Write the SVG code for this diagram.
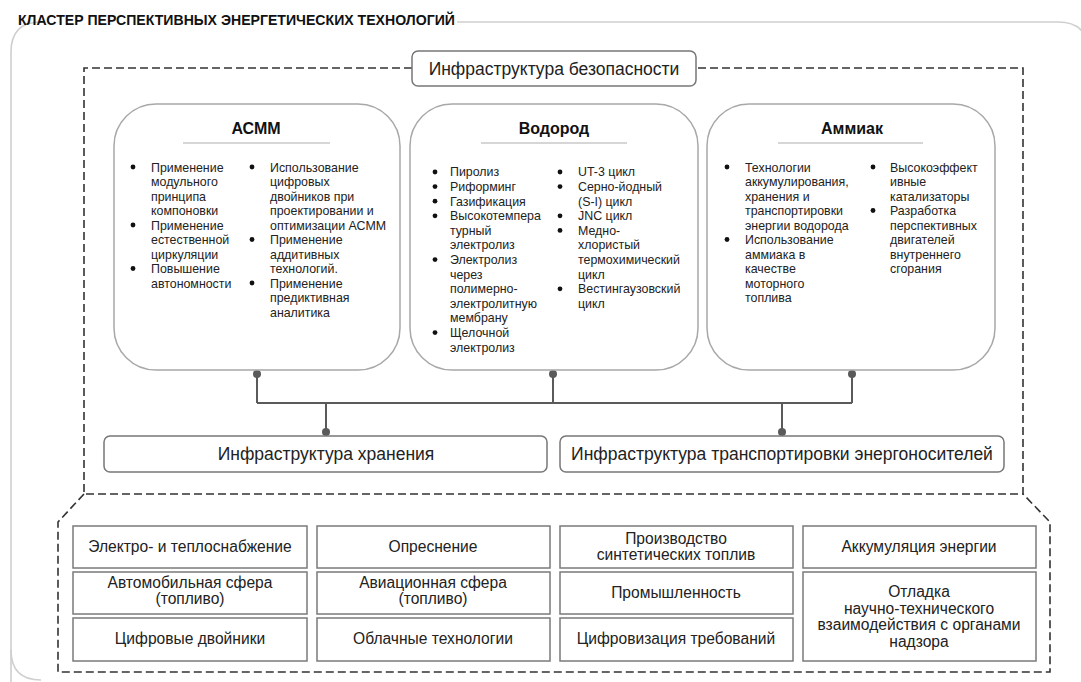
<svg xmlns="http://www.w3.org/2000/svg" width="1081" height="682" viewBox="0 0 1081 682">
<style>
text{font-family:"Liberation Sans",Arial,sans-serif;fill:#222}
.title{font-size:14.1px;font-weight:bold;fill:#111}
.bar{fill:#fff;stroke:#777;stroke-width:1.5}
.barT{font-size:17.5px;text-anchor:middle}
.cat{fill:#fff;stroke:#a8a8a8;stroke-width:1.5}
.catT{font-size:16px;font-weight:bold;text-anchor:middle;fill:#111}
.rule{stroke:#c8c8c8;stroke-width:1.5}
.li{font-size:12.4px}
.dot{fill:#111}
.cell{fill:#fff;stroke:#7a7a7a;stroke-width:1.5}
.cellT{font-size:15.6px;text-anchor:middle}
.dash{fill:none;stroke:#333;stroke-width:1.6;stroke-dasharray:8 4}
.conn{fill:none;stroke:#5a5a5a;stroke-width:2}
.cdot{fill:#5a5a5a}
</style>
<rect width="1081" height="682" fill="#fff"/>
<g id="cluster">
<path d="M457 22 H1058 Q1088 22 1088 52 V690 M11 690 V52 Q11 22 41 22" fill="none" stroke="#cfcfcf" stroke-width="1.6"/>
<path d="M11 650 Q11 680 41 680" fill="none" stroke="#cfcfcf" stroke-width="1.6"/>
<text class="title" x="18" y="25">КЛАСТЕР ПЕРСПЕКТИВНЫХ ЭНЕРГЕТИЧЕСКИХ ТЕХНОЛОГИЙ</text>
</g>
<g id="security-frame">
<path class="dash" d="M412 68 H84 V494 H1023 V68 H696"/>
</g>
<g id="applications-frame">
<path class="dash" d="M84 494 L58 522 V672 H1050 V522 L1023 494"/>
</g>
<g id="security">
<rect class="bar" x="412" y="51" width="284" height="35" rx="6"/>
<text class="barT" x="554" y="75">Инфраструктура безопасности</text>
</g>
<g id="connectors">
<path class="conn" d="M257 374 V403 M553 374 V403 M852 374 V403 M257 403 H852 M326 403 V432 M782 403 V432"/>
<circle class="cdot" cx="257" cy="374" r="4"/>
<circle class="cdot" cx="553" cy="374" r="4"/>
<circle class="cdot" cx="852" cy="374" r="4"/>
<circle class="cdot" cx="326" cy="432" r="4"/>
<circle class="cdot" cx="782" cy="432" r="4"/>
</g>
<g id="asmm">
<rect class="cat" x="114" y="104" width="286" height="266" rx="42"/>
<text class="catT" x="256" y="134">АСММ</text>
<line class="rule" x1="183" y1="143" x2="330" y2="143"/>
<circle class="dot" cx="133" cy="167" r="2.4"/>
<circle class="dot" cx="133" cy="225" r="2.4"/>
<circle class="dot" cx="133" cy="268.5" r="2.4"/>
<text class="li" x="151" y="171.5"><tspan x="151">Применение</tspan><tspan x="151" dy="14.5">модульного</tspan><tspan x="151" dy="14.5">принципа</tspan><tspan x="151" dy="14.5">компоновки</tspan><tspan x="151" dy="14.5">Применение</tspan><tspan x="151" dy="14.5">естественной</tspan><tspan x="151" dy="14.5">циркуляции</tspan><tspan x="151" dy="14.5">Повышение</tspan><tspan x="151" dy="14.5">автономности</tspan></text>
<circle class="dot" cx="252" cy="167" r="2.4"/>
<circle class="dot" cx="252" cy="239.5" r="2.4"/>
<circle class="dot" cx="252" cy="283" r="2.4"/>
<text class="li" x="270" y="171.5"><tspan x="270">Использование</tspan><tspan x="270" dy="14.5">цифровых</tspan><tspan x="270" dy="14.5">двойников при</tspan><tspan x="270" dy="14.5">проектировании и</tspan><tspan x="270" dy="14.5">оптимизации АСММ</tspan><tspan x="270" dy="14.5">Применение</tspan><tspan x="270" dy="14.5">аддитивных</tspan><tspan x="270" dy="14.5">технологий.</tspan><tspan x="270" dy="14.5">Применение</tspan><tspan x="270" dy="14.5">предиктивная</tspan><tspan x="270" dy="14.5">аналитика</tspan></text>
</g>
<g id="hydrogen">
<rect class="cat" x="410" y="104" width="288" height="266" rx="42"/>
<text class="catT" x="554" y="134">Водород</text>
<line class="rule" x1="481" y1="143" x2="627" y2="143"/>
<circle class="dot" cx="435" cy="172" r="2.4"/>
<circle class="dot" cx="435" cy="186.6" r="2.4"/>
<circle class="dot" cx="435" cy="201.2" r="2.4"/>
<circle class="dot" cx="435" cy="215.8" r="2.4"/>
<circle class="dot" cx="435" cy="259.6" r="2.4"/>
<circle class="dot" cx="435" cy="332.6" r="2.4"/>
<text class="li" x="450" y="176.4"><tspan x="450">Пиролиз</tspan><tspan x="450" dy="14.6">Риформинг</tspan><tspan x="450" dy="14.6">Газификация</tspan><tspan x="450" dy="14.6">Высокотемпера</tspan><tspan x="450" dy="14.6">турный</tspan><tspan x="450" dy="14.6">электролиз</tspan><tspan x="450" dy="14.6">Электролиз</tspan><tspan x="450" dy="14.6">через</tspan><tspan x="450" dy="14.6">полимерно-</tspan><tspan x="450" dy="14.6">электролитную</tspan><tspan x="450" dy="14.6">мембрану</tspan><tspan x="450" dy="14.6">Щелочной</tspan><tspan x="450" dy="14.6">электролиз</tspan></text>
<circle class="dot" cx="560" cy="172" r="2.4"/>
<circle class="dot" cx="560" cy="186.6" r="2.4"/>
<circle class="dot" cx="560" cy="215.8" r="2.4"/>
<circle class="dot" cx="560" cy="230.4" r="2.4"/>
<circle class="dot" cx="560" cy="288.8" r="2.4"/>
<text class="li" x="578" y="176.4"><tspan x="578">UT-3 цикл</tspan><tspan x="578" dy="14.6">Серно-йодный</tspan><tspan x="578" dy="14.6">(S-I) цикл</tspan><tspan x="578" dy="14.6">JNC цикл</tspan><tspan x="578" dy="14.6">Медно-</tspan><tspan x="578" dy="14.6">хлористый</tspan><tspan x="578" dy="14.6">термохимический</tspan><tspan x="578" dy="14.6">цикл</tspan><tspan x="578" dy="14.6">Вестингаузовский</tspan><tspan x="578" dy="14.6">цикл</tspan></text>
</g>
<g id="ammonia">
<rect class="cat" x="707" y="104" width="288" height="266" rx="42"/>
<text class="catT" x="852" y="134">Аммиак</text>
<line class="rule" x1="778" y1="143" x2="923" y2="143"/>
<circle class="dot" cx="727" cy="167" r="2.4"/>
<circle class="dot" cx="727" cy="239.5" r="2.4"/>
<text class="li" x="745" y="171.5"><tspan x="745">Технологии</tspan><tspan x="745" dy="14.5">аккумулирования,</tspan><tspan x="745" dy="14.5">хранения и</tspan><tspan x="745" dy="14.5">транспортировки</tspan><tspan x="745" dy="14.5">энергии водорода</tspan><tspan x="745" dy="14.5">Использование</tspan><tspan x="745" dy="14.5">аммиака в</tspan><tspan x="745" dy="14.5">качестве</tspan><tspan x="745" dy="14.5">моторного</tspan><tspan x="745" dy="14.5">топлива</tspan></text>
<circle class="dot" cx="873" cy="167" r="2.4"/>
<circle class="dot" cx="873" cy="210.5" r="2.4"/>
<text class="li" x="890" y="171.5"><tspan x="890">Высокоэффект</tspan><tspan x="890" dy="14.5">ивные</tspan><tspan x="890" dy="14.5">катализаторы</tspan><tspan x="890" dy="14.5">Разработка</tspan><tspan x="890" dy="14.5">перспективных</tspan><tspan x="890" dy="14.5">двигателей</tspan><tspan x="890" dy="14.5">внутреннего</tspan><tspan x="890" dy="14.5">сгорания</tspan></text>
</g>
<g id="storage">
<rect class="bar" x="104" y="436" width="443" height="36" rx="6"/>
<text class="barT" x="326" y="460">Инфраструктура хранения</text>
</g>
<g id="transport">
<rect class="bar" x="560" y="436" width="444" height="36" rx="6"/>
<text class="barT" x="782" y="460">Инфраструктура транспортировки энергоносителей</text>
</g>
<g id="cell-1"><rect class="cell" x="73" y="526" width="234" height="42"/><text class="cellT" x="190" y="552">Электро- и теплоснабжение</text></g>
<g id="cell-2"><rect class="cell" x="317" y="526" width="233" height="42"/><text class="cellT" x="433" y="552">Опреснение</text></g>
<g id="cell-3"><rect class="cell" x="560" y="526" width="233" height="42"/><text class="cellT" x="676" y="544">Производство<tspan x="676" dy="16">синтетических топлив</tspan></text></g>
<g id="cell-4"><rect class="cell" x="803" y="526" width="233" height="42"/><text class="cellT" x="919" y="552">Аккумуляция энергии</text></g>
<g id="cell-5"><rect class="cell" x="73" y="572" width="234" height="42"/><text class="cellT" x="190" y="588">Автомобильная сфера<tspan x="190" dy="16">(топливо)</tspan></text></g>
<g id="cell-6"><rect class="cell" x="317" y="572" width="233" height="42"/><text class="cellT" x="433" y="588">Авиационная сфера<tspan x="433" dy="16">(топливо)</tspan></text></g>
<g id="cell-7"><rect class="cell" x="560" y="572" width="233" height="42"/><text class="cellT" x="676" y="598">Промышленность</text></g>
<g id="cell-8"><rect class="cell" x="803" y="572" width="233" height="89"/><text class="cellT" x="919" y="597">Отладка<tspan x="919" dy="16.5">научно-технического</tspan><tspan x="919" dy="16.5">взаимодействия с органами</tspan><tspan x="919" dy="16.5">надзора</tspan></text></g>
<g id="cell-9"><rect class="cell" x="73" y="618" width="234" height="43"/><text class="cellT" x="190" y="644">Цифровые двойники</text></g>
<g id="cell-10"><rect class="cell" x="317" y="618" width="233" height="43"/><text class="cellT" x="433" y="644">Облачные технологии</text></g>
<g id="cell-11"><rect class="cell" x="560" y="618" width="233" height="43"/><text class="cellT" x="676" y="644">Цифровизация требований</text></g>
</svg>
